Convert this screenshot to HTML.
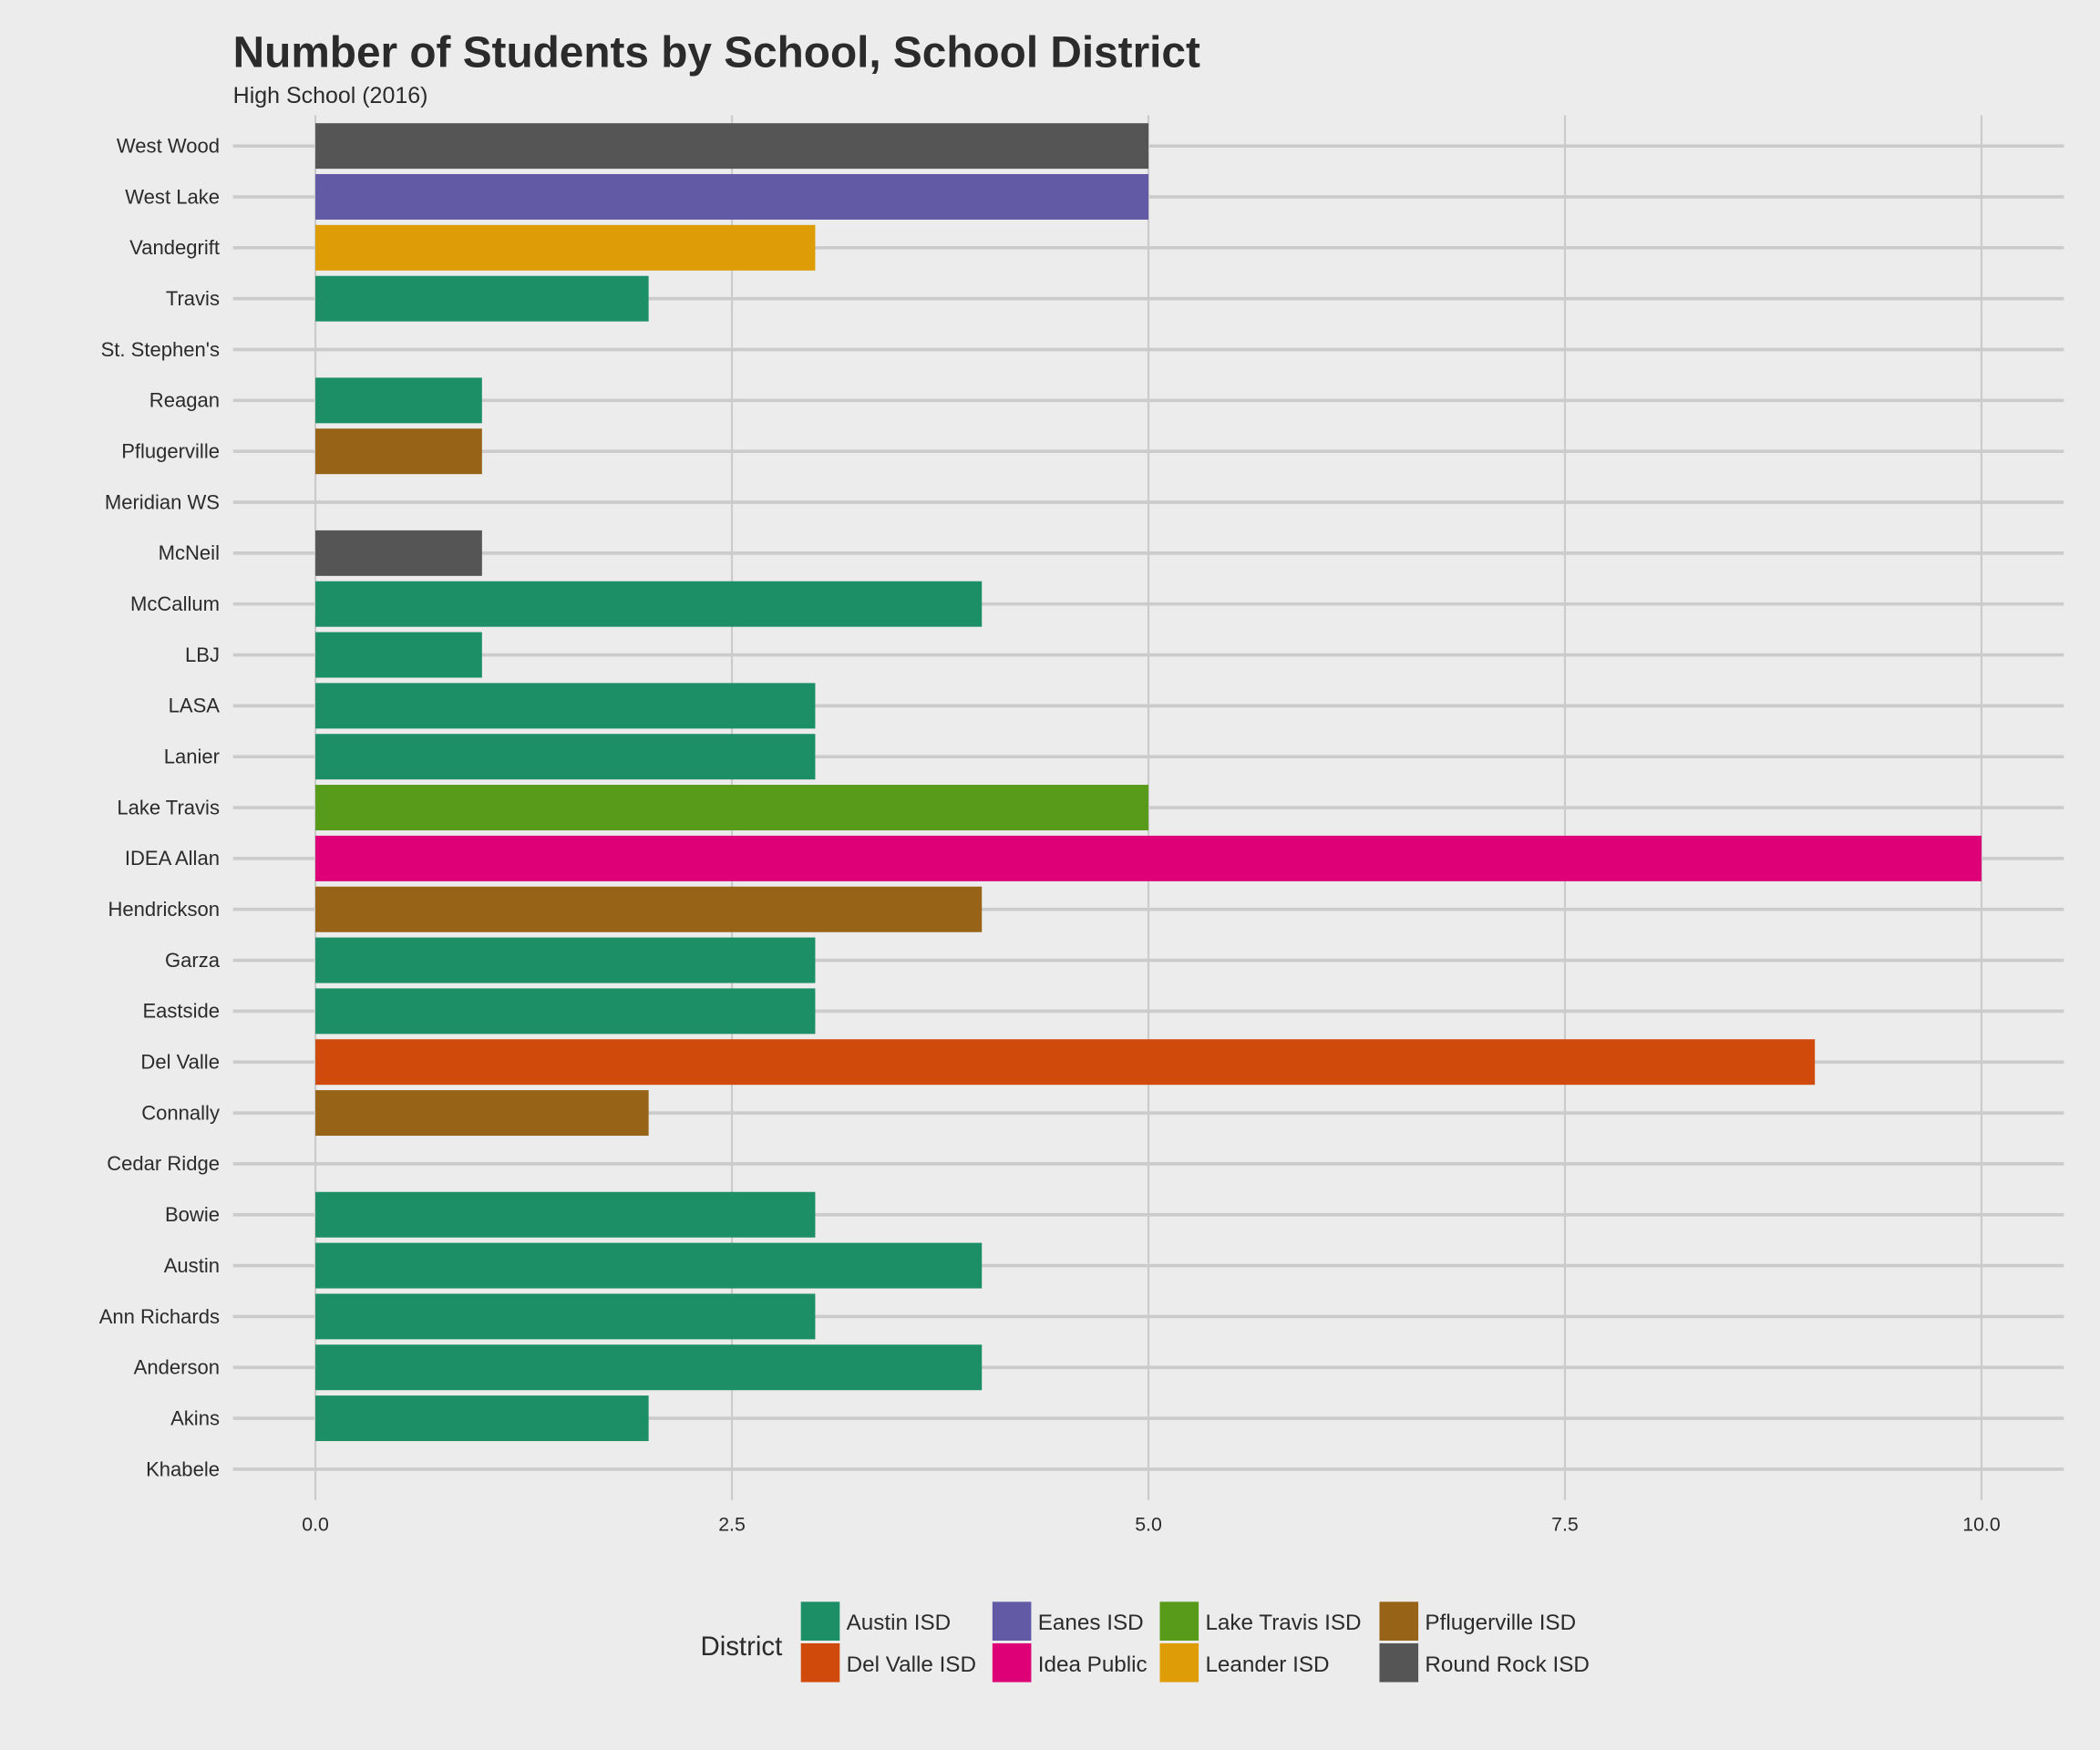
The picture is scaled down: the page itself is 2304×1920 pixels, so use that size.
<!DOCTYPE html>
<html><head><meta charset="utf-8"><style>
html,body{margin:0;padding:0;background:#ececec}
svg{display:block;font-family:"Liberation Sans",Arial,sans-serif}
</style></head><body>
<svg id="chart" width="2304" height="1920" viewBox="0 0 1568 1306.67" xmlns="http://www.w3.org/2000/svg">
<rect x="0" y="0" width="1568" height="1306.67" fill="#ececec"/>
<text x="174" y="50" font-size="32.5" font-weight="bold" fill="#2b2b2b">Number of Students by School, School District</text>
<text x="174" y="77" font-size="17" fill="#2b2b2b">High School (2016)</text>
<g id="grid"></g><g id="bars"></g><g id="labels"></g><g id="legend"></g>
</svg>
<script>
const schools = ["West Wood","West Lake","Vandegrift","Travis","St. Stephen's","Reagan","Pflugerville","Meridian WS","McNeil","McCallum","LBJ","LASA","Lanier","Lake Travis","IDEA Allan","Hendrickson","Garza","Eastside","Del Valle","Connally","Cedar Ridge","Bowie","Austin","Ann Richards","Anderson","Akins","Khabele"];
const counts = [5,5,3,2,0,1,1,0,1,4,1,3,3,5,10,4,3,3,9,2,0,3,4,3,4,2,0];
const districts = ["Round Rock ISD","Eanes ISD","Leander ISD","Austin ISD",null,"Austin ISD","Pflugerville ISD",null,"Round Rock ISD","Austin ISD","Austin ISD","Austin ISD","Austin ISD","Lake Travis ISD","Idea Public","Pflugerville ISD","Austin ISD","Austin ISD","Del Valle ISD","Pflugerville ISD",null,"Austin ISD","Austin ISD","Austin ISD","Austin ISD","Austin ISD",null];
const xTicks = [0,2.5,5,7.5,10];
const xTickLabels = ["0.0","2.5","5.0","7.5","10.0"];
const legendNames = ["Austin ISD","Del Valle ISD","Eanes ISD","Idea Public","Lake Travis ISD","Leander ISD","Pflugerville ISD","Round Rock ISD"];
const legendColors = ["#1d8f66","#cf4a0b","#635aa5","#dd0077","#589a1a","#de9c06","#976317","#555555"];

const NS="http://www.w3.org/2000/svg";
function mk(tag,attrs,parent,txt){const e=document.createElementNS(NS,tag);for(const k in attrs)e.setAttribute(k,attrs[k]);if(txt!=null)e.textContent=txt;parent.appendChild(e);return e;}
const x0=235.5, pxPerUnit=124.4;
const xs=v=>x0+v*pxPerUnit;
const yTop=109, step=38;
const ys=i=>yTop+i*step;
const colorOf=d=>legendColors[legendNames.indexOf(d)];

const grid=document.getElementById('grid');
xTicks.forEach((t,i)=>{
  const l=mk('line',{x1:xs(t),x2:xs(t),y1:86,y2:1120,stroke:'#cbcbcb','stroke-width':1.5},grid);
  
  
  const tx=mk('text',{x:xs(t),y:1143,'text-anchor':'middle','font-size':14.5,fill:'#2b2b2b'},grid,xTickLabels[i]);
  
  
});
schools.forEach((s,i)=>{
  const l=mk('line',{x1:174,x2:1541,y1:ys(i),y2:ys(i),stroke:'#cbcbcb','stroke-width':2.5},grid);
  
  
  const t=mk('text',{x:164,y:ys(i)+5,'text-anchor':'end','font-size':15,fill:'#2b2b2b'},document.getElementById('labels'),s);
  
  
});
const bars=document.getElementById('bars');
counts.forEach((c,i)=>{
  if(!c)return;
  const r=mk('rect',{x:xs(0),y:ys(i)-17,width:xs(c)-xs(0),height:34,fill:colorOf(districts[i])},bars);
  
  
});
const lg=document.getElementById('legend');
const lt=mk('text',{x:523,y:1236,'font-size':20,fill:'#2b2b2b'},lg,'District');


const colX=[598,741,866,1030], rowY=[1196,1227];
legendNames.forEach((n,i)=>{
  const cx=colX[Math.floor(i/2)], ry=rowY[i%2];
  const k=mk('rect',{x:cx,y:ry,width:29,height:29,fill:legendColors[i]},lg);
  
  
  const t=mk('text',{x:cx+34,y:ry+21,'font-size':16.5,fill:'#2b2b2b'},lg,n);
  
  
});
</script>
</body></html>
